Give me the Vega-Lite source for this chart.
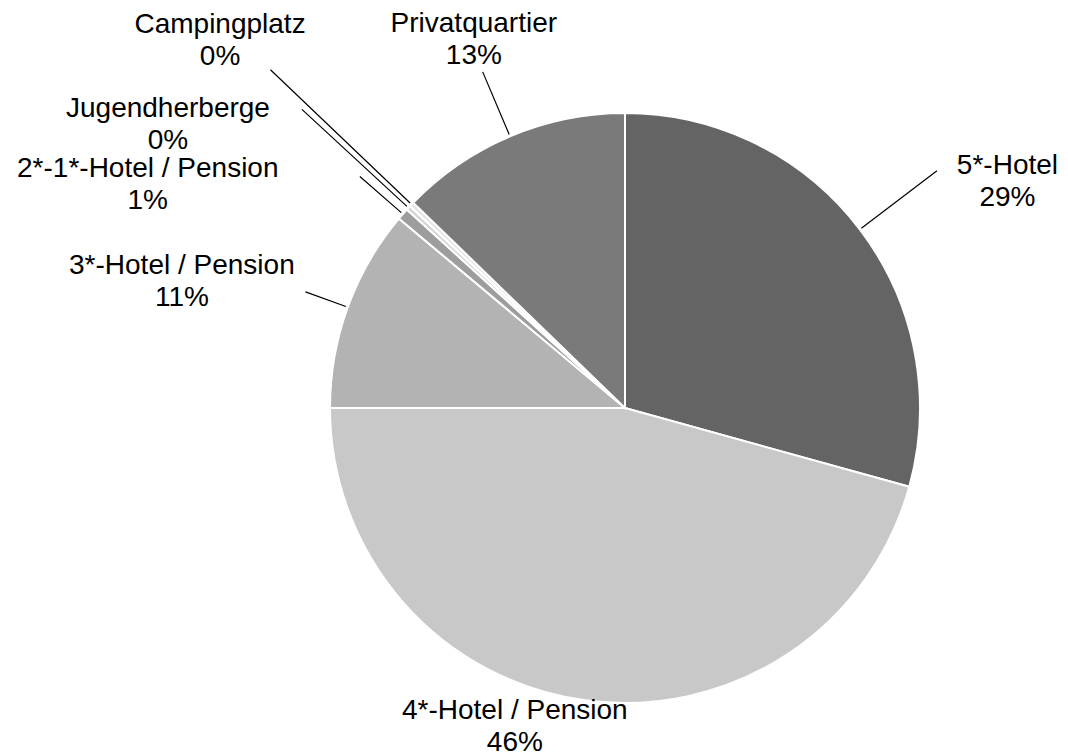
{
  "$schema": "https://vega.github.io/schema/vega-lite/v6.json",
  "width": 590,
  "height": 590,
  "autosize": {"type": "none"},
  "padding": {"left": 330, "top": 113, "right": 148, "bottom": 51},
  "background": "white",
  "config": {
    "view": {"stroke": null},
    "text": {"font": "Liberation Sans", "fontSize": 28, "lineHeight": 32, "color": "black"}
  },
  "data": {
    "values": [
      {"idx": 1, "category": "5*-Hotel", "share": 29.3},
      {"idx": 2, "category": "4*-Hotel / Pension", "share": 45.7},
      {"idx": 3, "category": "3*-Hotel / Pension", "share": 11.1},
      {"idx": 4, "category": "2*-1*-Hotel / Pension", "share": 0.65},
      {"idx": 5, "category": "Jugendherberge", "share": 0.25},
      {"idx": 6, "category": "Campingplatz", "share": 0.25},
      {"idx": 7, "category": "Privatquartier", "share": 12.75}
    ]
  },
  "transform": [
    {"stack": "share", "groupby": [], "sort": [{"field": "idx", "order": "ascending"}], "as": ["s0", "s1"]},
    {"calculate": "(datum.s0 + datum.s1) / 2", "as": "mid"},
    {"calculate": "[datum.category, format(datum.share / 100, '.0%')]", "as": "label"}
  ],
  "layer": [
    {
      "mark": {"type": "arc", "stroke": "white", "strokeWidth": 2},
      "encoding": {
        "theta": {"field": "s0", "type": "quantitative", "stack": null, "scale": {"domain": [0, 100]}},
        "theta2": {"field": "s1"},
        "color": {
          "field": "category", "type": "nominal", "legend": null,
          "scale": {
            "domain": ["5*-Hotel", "4*-Hotel / Pension", "3*-Hotel / Pension", "2*-1*-Hotel / Pension", "Jugendherberge", "Campingplatz", "Privatquartier"],
            "range": ["#646464", "#c8c8c8", "#b3b3b3", "#9d9d9d", "#d6d6d6", "#e4e4e4", "#7a7a7a"]
          }
        }
      }
    },
    {
      "transform": [{"filter": "datum.category === '5*-Hotel'"}],
      "mark": {"type": "arc", "innerRadius": 297, "outerRadius": 392, "stroke": "black", "strokeWidth": 1.2, "fillOpacity": 0},
      "encoding": {
        "theta": {"field": "mid", "type": "quantitative", "stack": null, "scale": {"domain": [0, 100]}},
        "theta2": {"field": "mid"}
      }
    },
    {
      "transform": [{"filter": "datum.category === '3*-Hotel / Pension'"}],
      "mark": {"type": "arc", "innerRadius": 297, "outerRadius": 340, "stroke": "black", "strokeWidth": 1.2, "fillOpacity": 0},
      "encoding": {
        "theta": {"field": "mid", "type": "quantitative", "stack": null, "scale": {"domain": [0, 100]}},
        "theta2": {"field": "mid"}
      }
    },
    {
      "transform": [{"filter": "datum.category === '2*-1*-Hotel / Pension'"}],
      "mark": {"type": "arc", "innerRadius": 297, "outerRadius": 352, "stroke": "black", "strokeWidth": 1.2, "fillOpacity": 0},
      "encoding": {
        "theta": {"field": "mid", "type": "quantitative", "stack": null, "scale": {"domain": [0, 100]}},
        "theta2": {"field": "mid"}
      }
    },
    {
      "transform": [{"filter": "datum.category === 'Jugendherberge'"}],
      "mark": {"type": "arc", "innerRadius": 297, "outerRadius": 440, "stroke": "black", "strokeWidth": 1.2, "fillOpacity": 0},
      "encoding": {
        "theta": {"field": "mid", "type": "quantitative", "stack": null, "scale": {"domain": [0, 100]}},
        "theta2": {"field": "mid"}
      }
    },
    {
      "transform": [{"filter": "datum.category === 'Campingplatz'"}],
      "mark": {"type": "arc", "innerRadius": 297, "outerRadius": 490, "stroke": "black", "strokeWidth": 1.2, "fillOpacity": 0},
      "encoding": {
        "theta": {"field": "mid", "type": "quantitative", "stack": null, "scale": {"domain": [0, 100]}},
        "theta2": {"field": "mid"}
      }
    },
    {
      "transform": [{"filter": "datum.category === 'Privatquartier'"}],
      "mark": {"type": "arc", "innerRadius": 297, "outerRadius": 365, "stroke": "black", "strokeWidth": 1.2, "fillOpacity": 0},
      "encoding": {
        "theta": {"field": "mid", "type": "quantitative", "stack": null, "scale": {"domain": [0, 100]}},
        "theta2": {"field": "mid"}
      }
    },
    {
      "transform": [{"filter": "datum.category === '5*-Hotel'"}],
      "mark": {"type": "text", "radius": 380, "dx": 80, "dy": -4, "align": "center", "baseline": "alphabetic"},
      "encoding": {
        "theta": {"field": "mid", "type": "quantitative", "stack": null, "scale": {"domain": [0, 100]}},
        "text": {"field": "label"}
      }
    },
    {
      "transform": [{"filter": "datum.category === '4*-Hotel / Pension'"}],
      "mark": {"type": "text", "radius": 380, "dx": -59, "dy": -66, "align": "center", "baseline": "alphabetic"},
      "encoding": {
        "theta": {"field": "mid", "type": "quantitative", "stack": null, "scale": {"domain": [0, 100]}},
        "text": {"field": "label"}
      }
    },
    {
      "transform": [{"filter": "datum.category === '3*-Hotel / Pension'"}],
      "mark": {"type": "text", "radius": 380, "dx": -86, "dy": -4, "align": "center", "baseline": "alphabetic"},
      "encoding": {
        "theta": {"field": "mid", "type": "quantitative", "stack": null, "scale": {"domain": [0, 100]}},
        "text": {"field": "label"}
      }
    },
    {
      "transform": [{"filter": "datum.category === '2*-1*-Hotel / Pension'"}],
      "mark": {"type": "text", "radius": 380, "dx": -191, "dy": 19, "align": "center", "baseline": "alphabetic"},
      "encoding": {
        "theta": {"field": "mid", "type": "quantitative", "stack": null, "scale": {"domain": [0, 100]}},
        "text": {"field": "label"}
      }
    },
    {
      "transform": [{"filter": "datum.category === 'Jugendherberge'"}],
      "mark": {"type": "text", "radius": 380, "dx": -178, "dy": -33, "align": "center", "baseline": "alphabetic"},
      "encoding": {
        "theta": {"field": "mid", "type": "quantitative", "stack": null, "scale": {"domain": [0, 100]}},
        "text": {"field": "label"}
      }
    },
    {
      "transform": [{"filter": "datum.category === 'Campingplatz'"}],
      "mark": {"type": "text", "radius": 380, "dx": -130, "dy": -113, "align": "center", "baseline": "alphabetic"},
      "encoding": {
        "theta": {"field": "mid", "type": "quantitative", "stack": null, "scale": {"domain": [0, 100]}},
        "text": {"field": "label"}
      }
    },
    {
      "transform": [{"filter": "datum.category === 'Privatquartier'"}],
      "mark": {"type": "text", "radius": 380, "dx": -3, "dy": -26, "align": "center", "baseline": "alphabetic"},
      "encoding": {
        "theta": {"field": "mid", "type": "quantitative", "stack": null, "scale": {"domain": [0, 100]}},
        "text": {"field": "label"}
      }
    }
  ]
}
